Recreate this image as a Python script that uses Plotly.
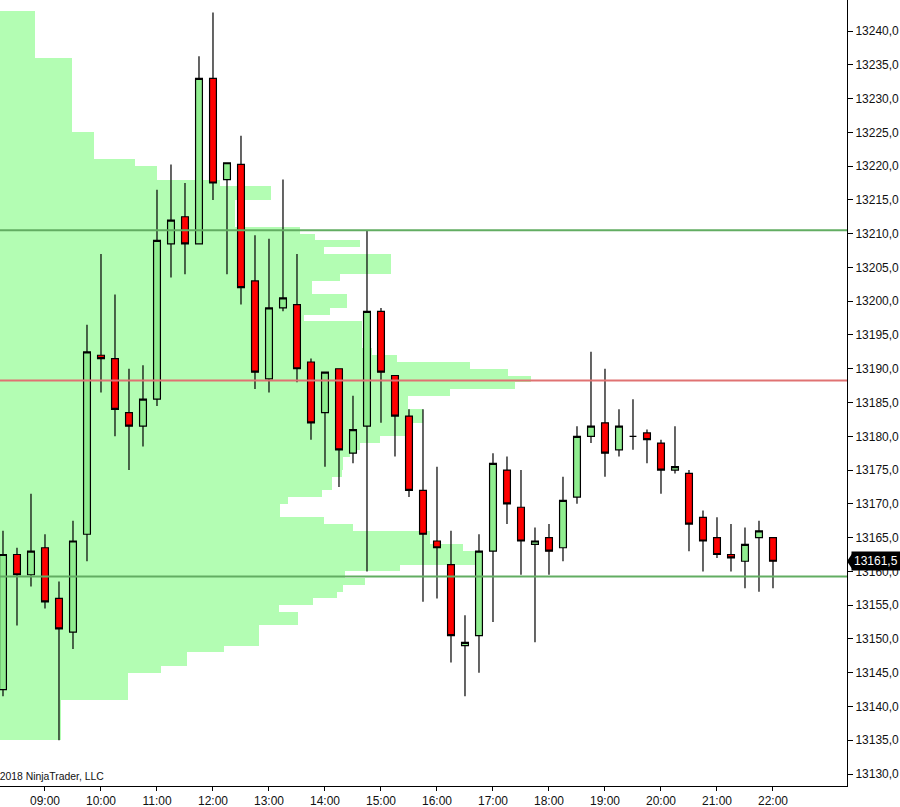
import pandas as pd
import plotly.graph_objects as go

# 15-minute bars
bar_times = pd.date_range("2018-03-01 08:15", periods=56, freq="15min")
opens = [13142.5, 13162.5, 13159.5, 13163.5, 13156, 13151, 13165.5, 13192,
         13191.5, 13183.5, 13181.5, 13185.5, 13208.5, 13212.5, 13208.5, 13233,
         13218, 13220.25, 13203, 13188.5, 13199, 13199.5, 13191, 13183.5,
         13190, 13177.5, 13181.5, 13198.5, 13189, 13183, 13172, 13164.5,
         13161, 13149, 13150.5, 13163, 13175, 13169.5, 13164, 13165,
         13163.5, 13171, 13180, 13182, 13178, 13180, 13180.5, 13179,
         13175, 13174.5, 13168, 13165, 13162.5, 13161.5, 13165, 13165]
highs = [13166, 13163.5, 13171.5, 13165.5, 13158.5, 13167.5, 13196.5, 13207,
         13201, 13190, 13190.5, 13216.5, 13220.25, 13217.5, 13236.25, 13242.75,
         13220.5, 13224.5, 13209.75, 13209.25, 13218, 13207, 13191.5, 13189.5,
         13190, 13186, 13210.5, 13199, 13189, 13184, 13184, 13175.5,
         13166, 13153.5, 13165.5, 13177.5, 13177, 13175, 13166.5, 13167,
         13174, 13181.5, 13192.5, 13190, 13184, 13185.5, 13181, 13179.5,
         13181.5, 13175, 13169, 13168, 13167, 13166.5, 13167.5, 13165]
lows = [13141.5, 13152, 13157.75, 13154.5, 13135, 13148.5, 13161.5, 13186.5,
        13180, 13175, 13178.5, 13184.5, 13203.5, 13204, 13208.5, 13215,
        13204, 13199.5, 13187, 13186.5, 13198.5, 13188, 13179.5, 13175.5,
        13172.5, 13176, 13160, 13182, 13177, 13171, 13155.5, 13156,
        13146.5, 13141.5, 13145, 13152.5, 13167, 13159.5, 13149.5, 13159.5,
        13161.5, 13170, 13179, 13174, 13177, 13178, 13176, 13171.5,
        13174.5, 13163, 13160, 13162, 13160, 13157.5, 13157, 13157.5]
closes = [13162.5, 13159.5, 13163, 13155.5, 13151.5, 13164.5, 13192.5, 13191.5,
          13184, 13181.5, 13185.5, 13209, 13212, 13208.5, 13233, 13217.5,
          13220.5, 13202, 13189.5, 13199, 13200.5, 13190, 13182, 13189.5,
          13178, 13181, 13198.5, 13189.5, 13183, 13172, 13165.5, 13163.5,
          13150.5, 13149.5, 13163, 13176, 13170, 13164.5, 13164.5, 13163,
          13170.5, 13180, 13181.5, 13177.5, 13181.5, 13180, 13179.5, 13175,
          13175.5, 13167, 13164.5, 13162.5, 13162, 13164, 13166, 13161.5]

# volume profile, one row per point (row spans price .. price+1)
profile_price = list(range(13242, 13134, -1))
profile_volume = [35, 35, 35, 35, 35, 35, 35,
                  72, 72, 72, 72, 72, 72, 72, 72, 72, 72, 72,
                  94, 94, 94, 94, 135, 157, 157, 220, 271, 271,
                  235, 235, 235, 235, 300, 315, 360, 324, 391, 391,
                  391, 340, 312, 312, 347, 347, 330, 304, 362, 362,
                  362, 362, 372, 397, 470, 508, 531, 515, 450, 408,
                  408, 423, 423, 407, 407, 380, 360, 350, 343, 343,
                  342, 332, 332, 322, 288, 280, 280, 324, 353, 430,
                  430, 463, 477, 477, 400, 345, 365, 343, 337, 313,
                  279, 298, 298, 259, 259, 259, 224, 187, 187, 161,
                  128, 128, 128, 128, 61, 61, 61, 61, 61, 61]

# horizontal reference levels
level_prices = [13210.5, 13188.25, 13159.25]
level_colors = ["#62ad62", "#e07272", "#62ad62"]

y_ticks = [13130, 13135, 13140, 13145, 13150, 13155, 13160, 13165, 13170,
           13175, 13180, 13185, 13190, 13195, 13200, 13205, 13210, 13215,
           13220, 13225, 13230, 13235, 13240, 13245]
y_labels = [f"{v:.1f}".replace(".", ",") for v in y_ticks]

hour_ticks = pd.date_range("2018-03-01 09:00", "2018-03-01 22:00", freq="1h")
hour_labels = [t.strftime("%H:%M") for t in hour_ticks]

x_start = pd.Timestamp("2018-03-01 08:11:48")
x_end = pd.Timestamp("2018-03-01 23:19:18")

fig = go.Figure()

# profile sits on the base x axis, so the price bars drawn on x2 stay on top
fig.add_trace(go.Bar(
    y=[p + 0.5 for p in profile_price],
    x=profile_volume,
    orientation="h",
    width=1,
    marker=dict(color="#b3fdb3", line=dict(width=0)),
    xaxis="x",
    hoverinfo="x+y",
    showlegend=False,
))

for price, color in zip(level_prices, level_colors):
    fig.add_trace(go.Scatter(
        x=[x_start, x_end], y=[price, price],
        mode="lines", line=dict(color=color, width=2),
        xaxis="x2", hoverinfo="y", showlegend=False,
    ))

fig.add_trace(go.Candlestick(
    x=bar_times, open=opens, high=highs, low=lows, close=closes,
    increasing=dict(fillcolor="#90ee90", line=dict(color="black", width=1.2)),
    decreasing=dict(fillcolor="#ff0000", line=dict(color="black", width=1.2)),
    whiskerwidth=0,
    xaxis="x2",
    showlegend=False,
))

fig.update_layout(
    width=900, height=807,
    margin=dict(l=0, r=53, t=0, b=21),
    paper_bgcolor="white", plot_bgcolor="white",
    font=dict(family="Liberation Sans, Arial, sans-serif", size=12, color="#111"),
    boxgap=0.3,
    bargap=0,
    xaxis=dict(
        range=[0, 847], visible=False, fixedrange=True, automargin=False,
    ),
    xaxis2=dict(
        overlaying="x", anchor="y", side="bottom",
        type="date", range=[x_start, x_end],
        rangeslider=dict(visible=False),
        tickvals=hour_ticks, ticktext=hour_labels,
        showgrid=False, zeroline=False,
        showline=True, linecolor="black", linewidth=1,
        ticks="outside", ticklen=4, tickcolor="black",
        automargin=False,
    ),
    yaxis=dict(
        side="right", range=[13128.23, 13244.59],
        tickvals=y_ticks, ticktext=y_labels,
        showgrid=False, zeroline=False,
        showline=True, linecolor="black", linewidth=1,
        ticks="outside", ticklen=5, tickcolor="black",
        automargin=False,
    ),
)

# last price marker on the price axis
last_price = closes[-1]
fig.add_shape(
    type="path", xref="paper", yref="y",
    xsizemode="pixel", ysizemode="pixel", xanchor=1, yanchor=last_price,
    path="M 0,0 L 6,-9 L 6,9 Z", fillcolor="black", line=dict(width=0),
)
fig.add_annotation(
    x=1, y=last_price, xref="paper", yref="y",
    xanchor="left", yanchor="middle", xshift=4,
    text=f"{last_price:.1f}".replace(".", ","), showarrow=False,
    bgcolor="black", font=dict(color="white", size=12), borderpad=2,
)

fig.add_annotation(
    x=0, y=0, xref="paper", yref="paper",
    xanchor="left", yanchor="bottom", xshift=-10, yshift=2,
    text="©2018 NinjaTrader, LLC", showarrow=False,
    font=dict(size=10.4, color="#111"),
)

# drop the browser's default page margin so the figure fills the window
fig.write_html(
    "out.html",
    config={"displayModeBar": False},
    post_script="document.body.style.margin='0';document.body.style.overflow='hidden';",
)
